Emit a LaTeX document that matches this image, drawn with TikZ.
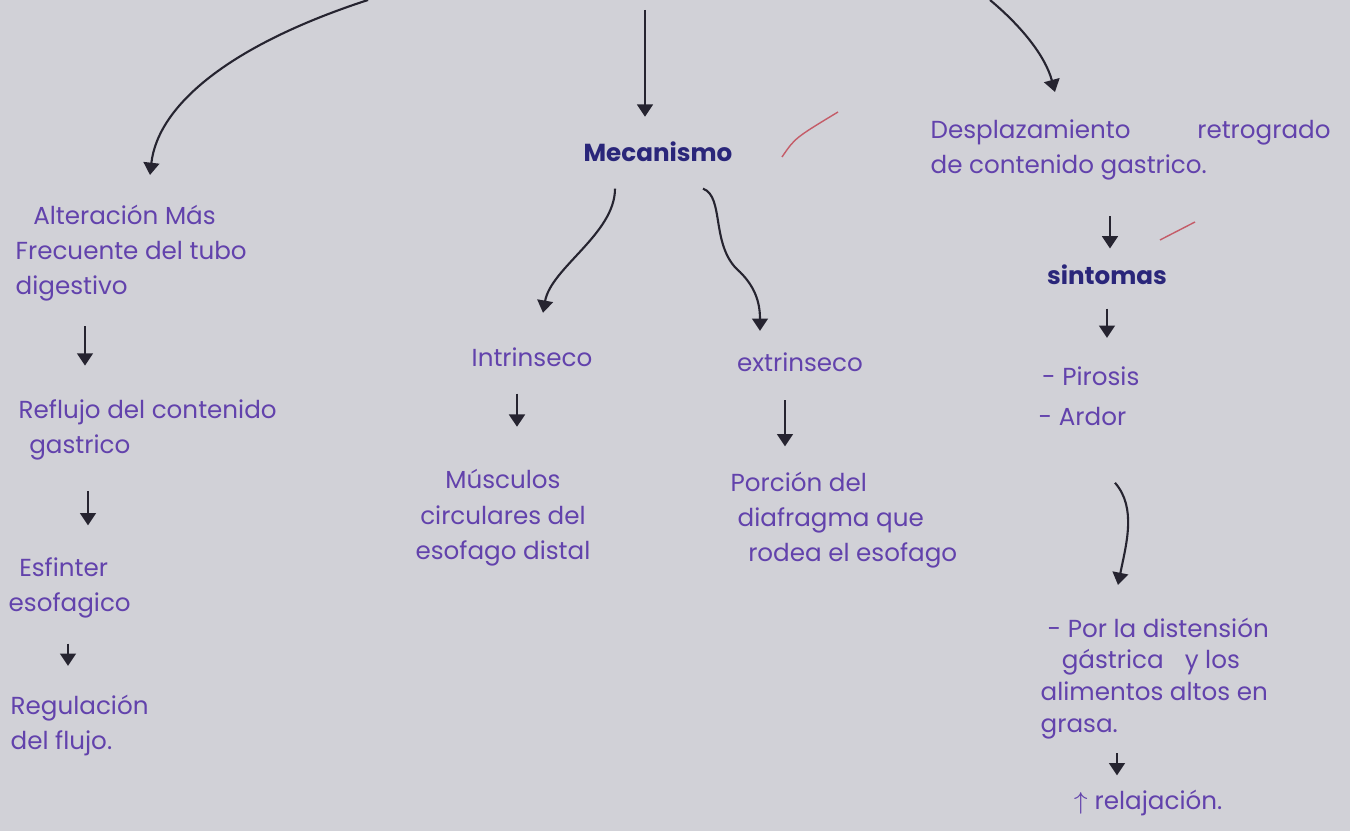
\documentclass[tikz,border=0pt]{standalone}
\usepackage{fontspec}
\setmainfont{Poppins}
\usetikzlibrary{arrows.meta,calc}
\definecolor{paper}{RGB}{209,209,215}
\definecolor{ink}{RGB}{98,66,172}
\definecolor{darkink}{RGB}{42,38,122}
\definecolor{penink}{RGB}{38,36,48}
\definecolor{redpen}{RGB}{196,92,104}
\begin{document}
\begin{tikzpicture}[x=0.01cm,y=-0.01cm,
	txt/.style={inner sep=0pt,text=ink,align=left,font=\fontsize{7}{10}\selectfont},
	head/.style={txt,text=darkink,font=\fontsize{7}{10}\selectfont\bfseries},
	pen/.style={draw=penink,line width=0.6pt,-{Triangle[length=3.5pt,width=4.5pt]}}]
	%paper
	\fill[paper] (0,0) rectangle (1350,831);
	\useasboundingbox (0,0) rectangle (1350,831);
	
	%arrows coming from above
	\coordinate (srcL) at (368,0);
	\coordinate (srcC) at (645,10);
	\coordinate (srcR) at (990,0);
	
	%left column
	\node[txt, anchor=north west] (alteracion) at (15,204) {\hspace{5pt}Alteración Más\\Frecuente del tubo\\digestivo};
	\node[txt, anchor=north west] (reflujo) at (18,399) {Reflujo del contenido\\\hspace{3pt}gastrico};
	\node[txt, anchor=north west] (esfinter) at (8,557) {\hspace{3pt}Esfinter\\esofagico};
	\node[txt, anchor=north west] (regulacion) at (10,694) {Regulación\\del flujo.};
	
	%center column
	\node[head] (mecanismo) at (658,152) {Mecanismo};
	\node[txt] (intrinseco) at (532,357) {Intrinseco};
	\node[txt] (extrinseco) at (800,362) {extrinseco};
	\node[txt, anchor=north, align=center] (musculos) at (503,469) {Músculos\\circulares del\\esofago distal};
	\node[txt, anchor=north west] (porcion) at (730,471) {Porción del\\\hspace{2pt}diafragma que\\\hspace{5pt}rodea el esofago};
	
	%right column
	\node[txt, anchor=north west] (desplaz) at (930,119) {Desplazamiento\hspace{19pt}retrogrado\\de contenido gastrico.};
	\node[head] (sintomas) at (1107,275) {sintomas};
	\node[txt, anchor=north west, font=\fontsize{7}{11.5}\selectfont] (pirosis) at (1038,366) {\hspace{1pt}- Pirosis\\- Ardor};
	\node[txt, anchor=north west, font=\fontsize{7}{9}\selectfont] (distension) at (1040,617) {\hspace{2pt}- Por la distensión\\\hspace{6pt}gástrica\hspace{6pt}y los\\alimentos altos en\\grasa.};
	\node[txt] (relajacion) at (1148,803) {$\uparrow$ relajación.};
	
	%top arrows
	\draw[pen] (srcL) .. controls (230,45) and (158,105) .. ($(alteracion.north west)+(135,-29)$);
	\draw[pen, shorten >=7pt] (srcC) -- (srcC |- mecanismo.north);
	\draw[pen] (srcR) .. controls (1020,25) and (1045,55) .. ($(desplaz.north west)+(125,-27)$);
	
	%left chain
	\draw[pen, shorten <=7pt, shorten >=9.5pt] (85,0 |- alteracion.south) -- (85,0 |- reflujo.north);
	\draw[pen, shorten <=8.5pt, shorten >=9pt] (88,0 |- reflujo.south) -- (88,0 |- esfinter.north);
	\draw[pen, shorten <=7pt, shorten >=8pt] (68,0 |- esfinter.south) -- (68,0 |- regulacion.north);
	
	%mechanism branches
	\draw[pen] ($(mecanismo.south)+(-43,26)$) .. controls +(0,45) and +(8,-45) .. ($(intrinseco.north)+(11,-34)$);
	\draw[pen] ($(mecanismo.south)+(45,26)$) .. controls +(22,8) and +(-30,-25) .. (740,272) .. controls +(14,14) and +(0,-30) .. ($(extrinseco.north)+(-40,-21)$);
	\draw[pen, shorten <=7.5pt, shorten >=12pt] (517,0 |- intrinseco.south) -- (517,0 |- musculos.north);
	\draw[pen, shorten <=8pt, shorten >=7pt] (785,0 |- extrinseco.south) -- (785,0 |- porcion.north);
	
	%right chain
	\draw[pen, shorten <=10pt, shorten >=4.5pt] (1110,0 |- desplaz.south) -- (1110,0 |- sintomas.north);
	\draw[pen, shorten <=6.5pt, shorten >=8pt] (1107,0 |- sintomas.south) -- (1107,0 |- pirosis.north);
	\draw[pen] ($(pirosis.south west)+(77,56)$) .. controls +(22,25) and +(8,-40) .. ($(distension.north west)+(78,-32)$);
	\draw[pen, shorten <=4pt, shorten >=4pt] (1117,0 |- distension.south) -- (1117,0 |- relajacion.north);
	
	%stray red pen marks
	\draw[redpen, line width=0.4pt] (782,157) .. controls (795,138) .. (838,112);
	\draw[redpen, line width=0.4pt] (1160,240) -- (1195,222);
\end{tikzpicture}
\end{document}
